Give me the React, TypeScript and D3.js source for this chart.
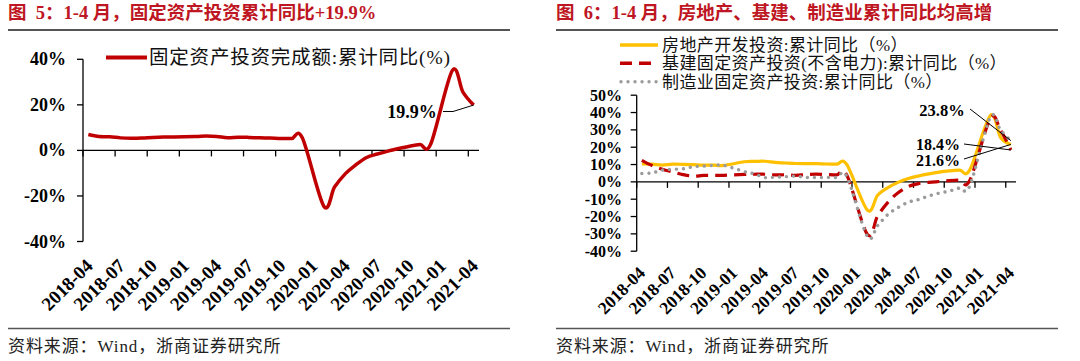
import React from 'react';
import * as d3 from 'd3';

// monthly categories, Jan values are not published (Jan-Feb combined)
const months = [
  '2018-04', '2018-05', '2018-06', '2018-07', '2018-08', '2018-09', '2018-10', '2018-11', '2018-12',
  '2019-01', '2019-02', '2019-03', '2019-04', '2019-05', '2019-06', '2019-07', '2019-08', '2019-09', '2019-10', '2019-11', '2019-12',
  '2020-01', '2020-02', '2020-03', '2020-04', '2020-05', '2020-06', '2020-07', '2020-08', '2020-09', '2020-10', '2020-11', '2020-12',
  '2021-01', '2021-02', '2021-03', '2021-04',
];

const faiTotal = [
  7.0, 6.1, 6.0, 5.5, 5.3, 5.4, 5.7, 5.9, 5.9,
  null, 6.1, 6.3, 6.1, 5.6, 5.8, 5.7, 5.5, 5.4, 5.2, 5.2, 5.4,
  null, -24.5, -16.1, -10.3, -6.3, -3.1, -1.6, -0.3, 0.8, 1.8, 2.6, 2.9,
  null, 35.0, 25.6, 19.9,
];

const realEstate = [
  10.3, 10.2, 9.7, 10.2, 10.1, 9.9, 9.7, 9.7, 9.5,
  null, 11.6, 11.8, 11.9, 11.2, 10.9, 10.6, 10.5, 10.5, 10.3, 10.2, 9.9,
  null, -16.3, -7.7, -3.3, -0.3, 1.9, 3.4, 4.6, 5.6, 6.3, 6.8, 7.0,
  null, 38.3, 25.6, 21.6,
];

const infra = [
  12.4, 9.4, 7.3, 5.7, 4.2, 3.3, 3.7, 3.7, 3.8,
  null, 4.3, 4.4, 4.4, 4.0, 4.1, 3.8, 4.2, 4.5, 4.2, 4.0, 3.8,
  null, -30.3, -19.7, -11.8, -6.3, -2.7, -1.0, -0.3, 0.2, 0.7, 1.0, 0.9,
  null, 36.6, 29.7, 18.4,
];

const manufacturing = [
  4.8, 5.2, 6.8, 7.3, 7.5, 8.7, 9.1, 9.5, 9.5,
  null, 5.9, 4.6, 2.5, 2.7, 3.0, 3.3, 2.6, 2.5, 2.6, 2.5, 3.1,
  null, -31.5, -25.2, -18.8, -14.8, -11.7, -10.2, -8.1, -6.5, -5.3, -3.5, -2.2,
  null, 37.3, 29.8, 23.8,
];

const leftTicks = [-40, -20, 0, 20, 40];
const rightTicks = [-40, -30, -20, -10, 0, 10, 20, 30, 40, 50];
const tickMonths = months.filter((_, i) => i % 3 === 0);

const RED = '#C00000';
const GOLD = '#FFC000';
const GRAY = '#9B9B9B';
const TITLE_RED = '#BE1622';
const SERIF = "'Liberation Serif', 'Times New Roman', serif";
const MIXED = "'Liberation Serif', 'Noto Sans CJK SC', sans-serif";

type Band = d3.ScaleBand<string>;
type Lin = d3.ScaleLinear<number, number>;

const linePath = (x: Band, y: Lin, vals: (number | null)[]) => {
  const pts = months
    .map((m, i) => [m, vals[i]] as [string, number | null])
    .filter(d => d[1] != null) as [string, number][];
  return d3.line<[string, number]>()
    .x(d => (x(d[0]) as number) + x.bandwidth() / 2)
    .y(d => y(d[1]))
    .curve(d3.curveCatmullRom.alpha(0))(pts) as string;
};

const Axes = ({ x, y, ticks, fmt, labelSize, tickLabelSize, labelEnd, labelDy, xLabelY, xLabelDx }: any) => {
  const [x0, x1] = x.range();
  const [yb, yt] = y.range();
  return (
    <g>
      <line x1={x0} x2={x0} y1={yt} y2={yb} stroke="#000" strokeWidth={1.3} />
      {ticks.map((t: number) => (
        <g key={t}>
          <line x1={x0 - 6} x2={x0} y1={y(t)} y2={y(t)} stroke="#000" strokeWidth={1.3} />
          <text x={labelEnd} y={y(t) + labelDy} textAnchor="end" fontFamily={SERIF} fontWeight="bold" fontSize={tickLabelSize}>
            {fmt(t)}
          </text>
        </g>
      ))}
      <line x1={x0} x2={x1} y1={y(0)} y2={y(0)} stroke="#000" strokeWidth={1.3} />
      {tickMonths.map(m => {
        const tx = x(m) as number;
        return (
          <g key={m}>
            <line x1={tx} x2={tx} y1={y(0)} y2={y(0) + 6} stroke="#000" strokeWidth={1.3} />
            <text
              transform={`translate(${tx + xLabelDx},${xLabelY}) rotate(-45)`}
              textAnchor="end"
              fontFamily={SERIF}
              fontWeight="bold"
              fontSize={labelSize}
            >
              {m}
            </text>
          </g>
        );
      })}
    </g>
  );
};

const Frame = ({ x0, x1, title }: { x0: number; x1: number; title: string }) => (
  <g>
    <text x={x0} y={19} fontFamily={MIXED} fontWeight="bold" fontSize={18.5} fill={TITLE_RED}>
      {title}
    </text>
    <line x1={x0} x2={x1} y1={30} y2={30} stroke="#555" strokeWidth={2} />
    <line x1={x0} x2={x1} y1={328.5} y2={328.5} stroke="#555" strokeWidth={1.5} />
    <text x={x0} y={352} fontFamily={MIXED} fontSize={17} letterSpacing={0.9} fill="#222">
      资料来源：Wind，浙商证券研究所
    </text>
  </g>
);

const App = () => {
  // left chart
  const xL = d3.scaleBand<string>().domain(months).range([83, 479]);
  const yL = d3.scaleLinear().domain([-40, 40]).range([241.5, 59.3]);
  const lastL = months.length - 1;
  const endLx = (xL(months[lastL]) as number) + xL.bandwidth() / 2;
  const endLy = yL(faiTotal[lastL] as number);

  // right chart
  const xR = d3.scaleBand<string>().domain(months).range([636.7, 1016]);
  const yR = d3.scaleLinear().domain([-40, 50]).range([251.2, 95.2]);
  const endRx = (xR(months[lastL]) as number) + xR.bandwidth() / 2;
  const pct = (t: number) => `${t}%`;

  return (
    <svg width={1080} height={361} style={{ position: 'absolute', left: 0, top: 0, background: '#fff' }}>
      <rect width={1080} height={361} fill="#fff" />
      <Frame x0={8} x1={510} title={'图\u00A0\u00A05：1-4\u00A0月，固定资产投资累计同比+19.9%'} />
      <Frame x0={556} x1={1058} title={'图\u00A0\u00A06：1-4\u00A0月，房地产、基建、制造业累计同比均高增'} />

      {/* left chart */}
      <Axes x={xL} y={yL} ticks={leftTicks} fmt={pct} labelSize={19} tickLabelSize={18} labelEnd={66} labelDy={6} xLabelY={267} xLabelDx={11} />
      <path d={linePath(xL, yL, faiTotal)} fill="none" stroke={RED} strokeWidth={3.5} strokeLinejoin="round" />
      <line x1={106} x2={147} y1={57.5} y2={57.5} stroke={RED} strokeWidth={4} />
      <text x={149} y={64} fontFamily={MIXED} fontSize={19.5} letterSpacing={0.8} fill="#111">固定资产投资完成额:累计同比(%)</text>
      <text x={412} y={118} textAnchor="middle" fontFamily={SERIF} fontWeight="bold" fontSize={18}>
        {`${faiTotal[lastL]}%`}
      </text>
      <polyline points={`443,111.5 453,111.5 ${endLx},${endLy}`} fill="none" stroke="#000" strokeWidth={1} />

      {/* right chart */}
      <Axes x={xR} y={yR} ticks={rightTicks} fmt={pct} labelSize={17.5} tickLabelSize={16} labelEnd={622} labelDy={5.5} xLabelY={274} xLabelDx={9.5} />
      <path d={linePath(xR, yR, realEstate)} fill="none" stroke={GOLD} strokeWidth={3.2} strokeLinejoin="round" />
      <path d={linePath(xR, yR, infra)} fill="none" stroke={RED} strokeWidth={3.2} strokeDasharray="12,7" />
      <path d={linePath(xR, yR, manufacturing)} fill="none" stroke={GRAY} strokeWidth={3.4} strokeDasharray="0.01,7" strokeLinecap="round" />

      <line x1={620} x2={658} y1={45} y2={45} stroke={GOLD} strokeWidth={3.5} />
      <line x1={620} x2={658} y1={63.3} y2={63.3} stroke={RED} strokeWidth={3.5} strokeDasharray="12,7" />
      <line x1={621} x2={658} y1={81.7} y2={81.7} stroke={GRAY} strokeWidth={3.4} strokeDasharray="0.01,7" strokeLinecap="round" />
      <text x={662} y={51} fontFamily={MIXED} fontSize={17} letterSpacing={0.4} fill="#111">房地产开发投资:累计同比（%）</text>
      <text x={662} y={69.3} fontFamily={MIXED} fontSize={17} letterSpacing={0.4} fill="#111">基建固定资产投资(不含电力):累计同比（%）</text>
      <text x={662} y={87.7} fontFamily={MIXED} fontSize={17} letterSpacing={0.4} fill="#111">制造业固定资产投资:累计同比（%）</text>

      <text x={942} y={115.5} textAnchor="middle" fontFamily={SERIF} fontWeight="bold" fontSize={16.5}>{`${manufacturing[lastL]}%`}</text>
      <text x={938} y={150} textAnchor="middle" fontFamily={SERIF} fontWeight="bold" fontSize={16}>{`${infra[lastL]}%`}</text>
      <text x={938} y={166} textAnchor="middle" fontFamily={SERIF} fontWeight="bold" fontSize={16}>{`${realEstate[lastL]}%`}</text>
      <line x1={970} y1={109} x2={endRx} y2={yR(manufacturing[lastL] as number)} stroke="#000" strokeWidth={1} />
      <line x1={964} y1={144} x2={endRx} y2={yR(infra[lastL] as number)} stroke="#000" strokeWidth={1} />
      <line x1={964} y1={159} x2={endRx} y2={yR(realEstate[lastL] as number)} stroke="#000" strokeWidth={1} />
    </svg>
  );
};

export default App;
